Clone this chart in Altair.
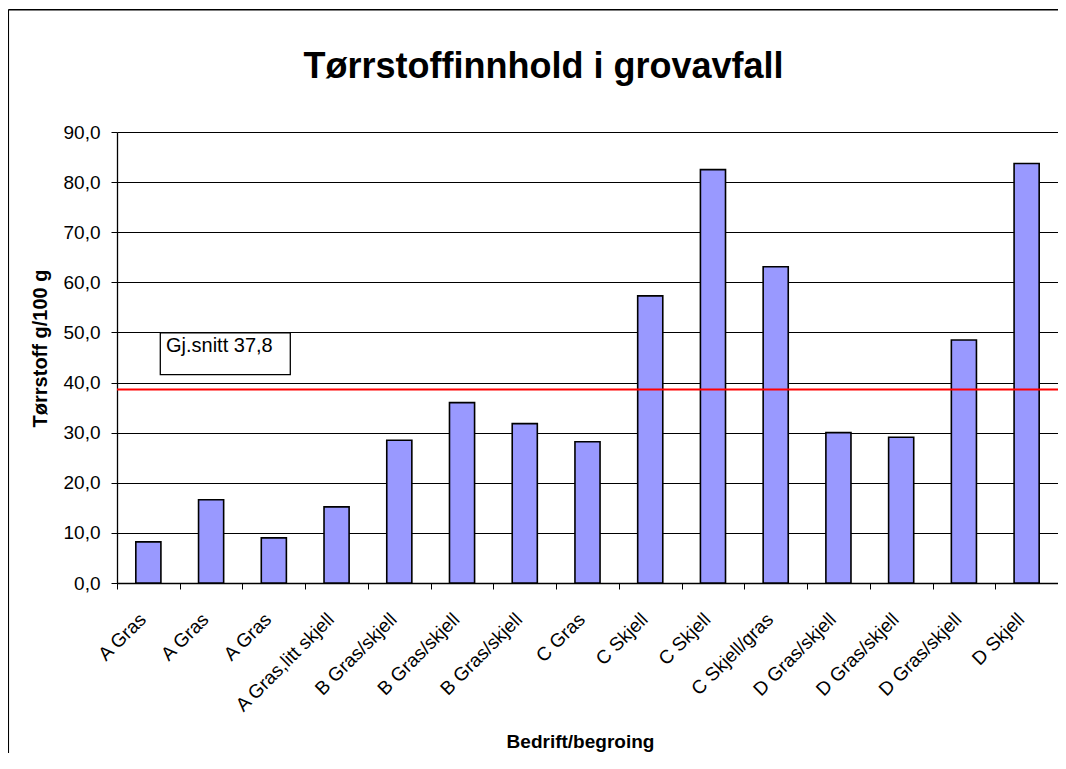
import json
import altair as alt
import pandas as pd

# ---- data ----
categories = [
    "A Gras", "A Gras", "A Gras", "A Gras,litt skjell",
    "B Gras/skjell", "B Gras/skjell", "B Gras/skjell",
    "C Gras", "C Skjell", "C Skjell", "C Skjell/gras",
    "D Gras/skjell", "D Gras/skjell", "D Gras/skjell", "D Skjell",
]
values = [8.2, 16.6, 9.0, 15.2, 28.5, 36.0, 31.8, 28.2, 57.3, 82.5, 63.1, 30.0, 29.1, 48.5, 83.7]
mean_value = 38.6
mean_label = ["Gj.snitt 37,8"]
y_ticks = [0, 10, 20, 30, 40, 50, 60, 70, 80, 90]
# annotation box (in y-axis units)
box_top = [49.9]
box_bottom = [41.6]
box_text_y = [47.2]

FONT = "Liberation Sans"
W, H = 941, 451
Y_TITLE = "Tørrstoff g/100 g"

df = pd.DataFrame({"idx": list(range(len(categories))), "kat": categories, "verdi": values})
label_expr = json.dumps(categories, ensure_ascii=False) + "[datum.value]"

x_enc = alt.X(
    "idx:O",
    title="Bedrift/begroing",
    scale=alt.Scale(paddingInner=0, paddingOuter=0),
    axis=alt.Axis(
        labelExpr=label_expr,
        labelAngle=-45,
        labelAlign="right",
        labelBaseline="middle",
        labelFont=FONT,
        labelFontSize=19,
        labelColor="black",
        labelPadding=27,
        labelOffset=-6,
        tickBand="extent",
        tickSize=6,
        tickColor="black",
        domainColor="black",
        domainWidth=1.3,
        grid=False,
        titleFont=FONT,
        titleFontSize=19,
        titleFontWeight="bold",
        titleColor="black",
        titleX=463,
        titleY=164,
        titleBaseline="alphabetic",
        titleAlign="center",
    ),
)

y_scale = alt.Scale(domain=[0, 90], nice=False)
y_axis = alt.Axis(
    values=y_ticks,
    labelExpr="replace(format(datum.value, '.1f'), '.', ',')",
    labelFont=FONT,
    labelFontSize=19,
    labelColor="black",
    labelPadding=11,
    tickSize=6,
    tickColor="black",
    domainColor="black",
    domainWidth=1.3,
    grid=True,
    gridColor="black",
    gridOpacity=1,
    gridWidth=1,
    titleFont=FONT,
    titleFontSize=20,
    titleFontWeight="bold",
    titleColor="black",
    titleAngle=270,
    titleX=-71,
    titleY=216,
    titleBaseline="alphabetic",
    titleAlign="center",
)


def y_of(field):
    return alt.Y(field, title=Y_TITLE, scale=y_scale, axis=y_axis)


bars = alt.Chart(df).mark_bar(
    width=alt.RelativeBandSize(0.4), color="#9999FF", stroke="black", strokeWidth=1.6
).encode(x=x_enc, y=y_of("verdi:Q"))

one = pd.DataFrame({"k": [0]})
frame_left = alt.Chart(one).mark_rule(color="black", strokeWidth=1.5).encode(
    x=alt.value(-108.7), y=alt.value(-122.3), y2=alt.value(H + 260)
)
frame_top = alt.Chart(one).mark_rule(color="black", strokeWidth=1.5).encode(
    x=alt.value(-108.7), x2=alt.value(W + 40), y=alt.value(-122.3)
)

mean_rule = alt.Chart(pd.DataFrame({"snitt": [mean_value]})).mark_rule(
    color="#FF0000", strokeWidth=2
).encode(y=y_of("snitt:Q"))

box_df = pd.DataFrame({"top": box_top, "bunn": box_bottom, "ty": box_text_y, "lab": mean_label})
box = alt.Chart(box_df).mark_rect(fill="white", stroke="black", strokeWidth=1.3).encode(
    x=alt.value(43.3), x2=alt.value(173.3), y=y_of("top:Q"), y2="bunn:Q"
)
box_text = alt.Chart(box_df).mark_text(
    align="left", baseline="middle", font=FONT, fontSize=20, color="black"
).encode(x=alt.value(49), y=y_of("ty:Q"), text="lab:N")

chart = alt.layer(frame_left, frame_top, bars, box, box_text, mean_rule).properties(
    width=W,
    height=H,
    autosize=alt.AutoSizeParams(type="none"),
    padding={"left": 109, "top": 124, "right": 0, "bottom": 170},
    title=alt.TitleParams(
        text="Tørrstoffinnhold i grovavfall",
        font=FONT,
        fontSize=36,
        fontWeight="bold",
        color="black",
        anchor="middle",
        frame="group",
        baseline="alphabetic",
        dx=-44,
        offset=-105,
    ),
    background="white",
).configure_view(strokeWidth=0)

chart.save("out.html", embed_options={"renderer": "svg", "actions": False})
